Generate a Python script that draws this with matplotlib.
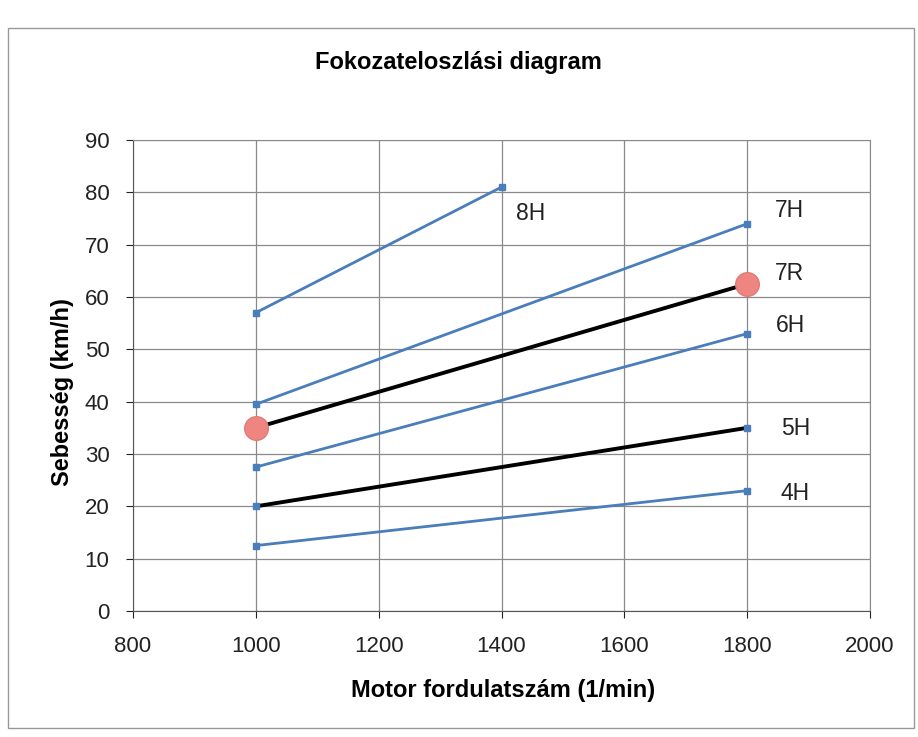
import matplotlib
matplotlib.use("Agg")
import matplotlib.pyplot as plt
from matplotlib.patches import Rectangle

rpm = [1000, 1800]
rpm_8h = [1000, 1400]
v_8h = [57, 81]
v_7h = [39.5, 74]
v_7r = [35, 62.5]
v_6h = [27.5, 53]
v_5h = [20, 35]
v_4h = [12.5, 23]

labels = ["8H", "7H", "7R", "6H", "5H", "4H"]
label_x = [1423, 1845, 1845, 1847, 1855, 1855]
label_y = [76, 76.5, 64.5, 54.5, 34.8, 22.5]

xticks = [800, 1000, 1200, 1400, 1600, 1800, 2000]
yticks = [0, 10, 20, 30, 40, 50, 60, 70, 80, 90]

plt.rcParams['font.family'] = ['Liberation Sans', 'DejaVu Sans']

W, H = 918, 737
fig = plt.figure(figsize=(W / 100, H / 100), dpi=100)
left, right, bottom, top = 133, 870, 611, 140
ax = fig.add_axes([left / W, 1 - bottom / H, (right - left) / W, (bottom - top) / H])

blue = "#4a7ebb"
ax.plot(rpm_8h, v_8h, color=blue, lw=2, marker="s", ms=5, zorder=3)
ax.plot(rpm, v_7h, color=blue, lw=2, marker="s", ms=5, zorder=3)
ax.plot(rpm, v_7r, color="black", lw=2.8, marker="o", ms=17,
        markerfacecolor="#ee8580", markeredgecolor="#e27a75", zorder=4)
ax.plot(rpm, v_6h, color=blue, lw=2, marker="s", ms=5, zorder=3)
ax.plot(rpm, v_5h, color="black", lw=2.8, marker="s", ms=5,
        markerfacecolor=blue, markeredgecolor=blue, zorder=3)
ax.plot(rpm, v_4h, color=blue, lw=2, marker="s", ms=5, zorder=3)

for t, x, y in zip(labels, label_x, label_y):
    ax.text(x, y, t, fontsize=16.5, va="center", ha="left", color="#222222")

ax.set_xlim(800, 2000)
ax.set_ylim(0, 90)
ax.set_xticks(xticks)
ax.set_yticks(yticks)
ax.tick_params(labelsize=16, length=5, colors="#222222")
ax.tick_params(axis="x", pad=13)
ax.tick_params(axis="y", pad=12)
ax.grid(True, color="#8a8a8a", lw=0.9)
ax.set_axisbelow(True)
for s in ["top", "right"]:
    ax.spines[s].set_color("#8a8a8a")
for s in ["left", "bottom"]:
    ax.spines[s].set_color("#555555")

fig.text(503 / W, 1 - 690 / H, "Motor fordulatszám (1/min)", fontsize=17,
         fontweight="bold", ha="center", va="center")
fig.text(62 / W, 1 - 392 / H, "Sebesség (km/h)", fontsize=17, fontweight="bold",
         ha="center", va="center", rotation=90)
fig.text(458 / W, 1 - 62 / H, "Fokozateloszlási diagram", fontsize=17,
         fontweight="bold", ha="center", va="center")

fig.patches.append(Rectangle((8 / W, 1 - 728 / H), 906 / W, 700 / H,
                             transform=fig.transFigure, fill=False,
                             edgecolor="#999999", lw=1))

fig.savefig("out.png", dpi=100)
